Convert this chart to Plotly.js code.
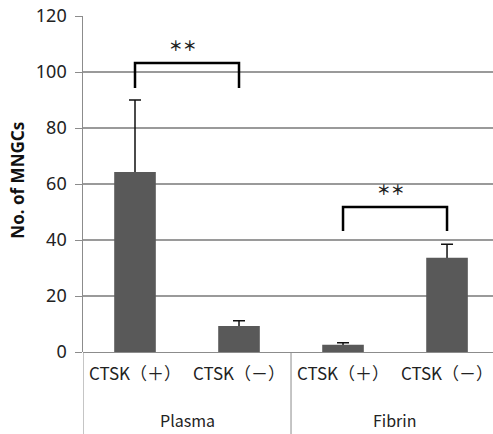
<!DOCTYPE html>
<html>
<head>
<meta charset="utf-8">
<script src="https://cdn.plot.ly/plotly-3.0.1.min.js"></script>
<style>html,body{margin:0;padding:0;background:#fff;}#chart{width:493px;height:434px;}</style>
</head>
<body>
<div id="chart"></div>
<script>
// ---- data ----
const groups = ['Plasma', 'Plasma', 'Fibrin', 'Fibrin'];
const conditions = ['CTSK（＋）', 'CTSK（－）', 'CTSK（＋）', 'CTSK（－）'];
const values = [64.3, 9.3, 2.6, 33.7];
const errors = [25.7, 1.9, 0.7, 4.8];
// significance brackets: index pairs of bars, bracket top and leg bottom values
const sigFrom = [0, 2];
const sigTo = [1, 3];
const sigTop = [103.2, 51.8];
const sigLeg = [94.3, 43.2];
const sigText = ['＊＊', '＊＊'];
const yTicks = [0, 20, 40, 60, 80, 100, 120];
const yTitle = 'No. of MNGCs';

const idx = conditions.map((_, i) => i);
const xRange = [-0.5, 3.442];
const FONT = 'Noto Sans CJK JP';

const traces = [];
// error bars (base subplot, drawn under the bars)
traces.push({
  type: 'scatter', mode: 'markers', xaxis: 'x', yaxis: 'y',
  x: idx, y: values,
  marker: {size: 1, opacity: 0},
  error_y: {type: 'data', array: errors, color: '#111', thickness: 1.5, width: 6},
  hoverinfo: 'none', showlegend: false
});
// bars (overlay subplot, above error bars' lower halves)
traces.push({
  type: 'bar', xaxis: 'x2', yaxis: 'y',
  x: idx, y: values, width: 0.4,
  marker: {color: '#595959'},
  hoverinfo: 'none', showlegend: false
});

sigFrom.forEach((a, i) => {
  const b = sigTo[i];
  traces.push({
    type: 'scatter', mode: 'lines', xaxis: 'x2', yaxis: 'y',
    x: [a, a, b, b],
    y: [sigLeg[i], sigTop[i], sigTop[i], sigLeg[i]],
    line: {color: '#000', width: 2.5},
    hoverinfo: 'none', showlegend: false
  });
  traces.push({
    type: 'scatter', mode: 'text', xaxis: 'x2', yaxis: 'y',
    x: [(a + b) / 2 - 0.04], y: [sigTop[i] + 5.4],
    text: [sigText[i]],
    textfont: {family: FONT, size: 14, color: '#222', weight: 'bold'},
    hoverinfo: 'none', showlegend: false
  });
});

// group labels and dividers
const groupNames = [...new Set(groups)];
const annotations = groupNames.map(g => {
  const ids = idx.filter(i => groups[i] === g);
  return {
    xref: 'x', yref: 'paper',
    x: (ids[0] + ids[ids.length - 1]) / 2, y: -0.202,
    text: g, showarrow: false, yanchor: 'middle',
    font: {family: FONT, size: 16, color: '#222'}
  };
});
annotations.push({
  xref: 'paper', yref: 'paper', x: -0.1585, y: 0.51,
  xanchor: 'center', yanchor: 'middle', textangle: -90,
  text: '<b>' + yTitle + '</b>', showarrow: false,
  font: {family: 'Noto Sans', size: 17, color: '#111'}
});
const bounds = [-0.5];
groupNames.forEach(g => {
  const ids = idx.filter(i => groups[i] === g);
  bounds.push(ids[ids.length - 1] + 0.5);
});
const shapes = bounds.map(b => ({
  type: 'line', xref: 'x', yref: 'paper',
  x0: b, x1: b, y0: 0, y1: -0.25,
  line: {color: '#8c8c8c', width: 1}
}));

const layout = {
  width: 493, height: 434,
  margin: {l: 83, r: 0, t: 16, b: 82},
  paper_bgcolor: '#fff', plot_bgcolor: '#fff',
  showlegend: false,
  font: {family: FONT, color: '#222'},
  xaxis: {
    type: 'linear', range: xRange,
    tickvals: idx, ticktext: conditions,
    showline: false, zeroline: false, showgrid: false,
    ticks: '', ticklabeloverflow: 'allow', ticklabelstandoff: 10,
    tickfont: {family: FONT, size: 17, color: '#222'}
  },
  xaxis2: {
    overlaying: 'x', range: xRange, visible: false
  },
  yaxis: {
    range: [0, 120],
    tickvals: yTicks,
    ticktext: yTicks.map(v => v + '\u00a0'),
    ticks: 'outside', ticklen: 7, tickcolor: '#8c8c8c',
    showline: true, linecolor: '#8c8c8c', linewidth: 1,
    showgrid: true, gridcolor: '#9a9a9a', gridwidth: 1.5,
    zeroline: true, zerolinecolor: '#8c8c8c', zerolinewidth: 1,
    tickfont: {family: 'Noto Sans', size: 18, color: '#222'}
  },
  shapes: shapes,
  annotations: annotations
};

Plotly.newPlot('chart', traces, layout, {displayModeBar: false, staticPlot: true});
</script>
</body>
</html>
